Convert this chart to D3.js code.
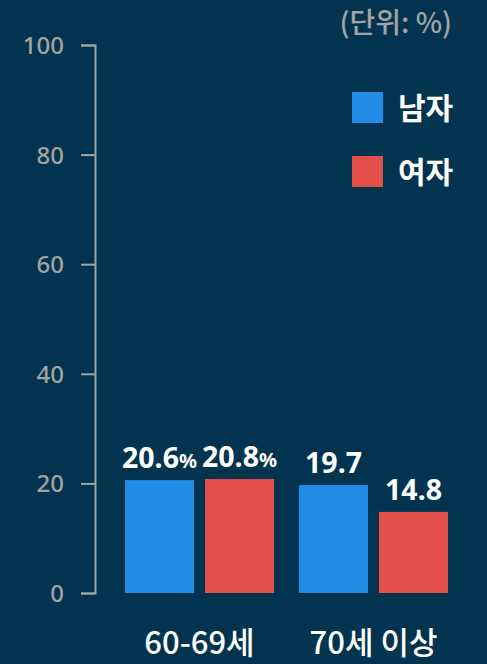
<!DOCTYPE html>
<html>
<head>
<meta charset="utf-8">
<script src="https://cdn.jsdelivr.net/npm/d3@7"></script>
<style>
  html, body { margin: 0; padding: 0; background: #02344f; }
  svg { display: block; font-family: "Noto Sans CJK KR", "Noto Sans", sans-serif; }
</style>
</head>
<body>
<div id="chart"></div>
<script>
// data
var groups = ["60-69세", "70세 이상"];
var series = ["남자", "여자"];
var menValues = [20.6, 19.7];
var womenValues = [20.8, 14.8];
var yTicks = [0, 20, 40, 60, 80, 100];
var colors = ["#228be6", "#e2504a"];
var unitLabel = "(단위: %)";

var W = 487, H = 664;

var svg = d3.select("#chart").append("svg")
  .attr("width", W).attr("height", H);

svg.append("rect").attr("width", W).attr("height", H).attr("fill", "#02344f");

var y = d3.scaleLinear().domain([0, 100]).range([593, 45]);

var x0 = d3.scaleBand().domain(groups).range([125, 448]).paddingInner(25 / 174);
var x1 = d3.scaleBand().domain(series).range([0, x0.bandwidth()]).paddingInner(11 / 80);
var color = d3.scaleOrdinal().domain(series).range(colors);

// y axis
var yAxis = d3.axisLeft(y).tickValues(yTicks).tickSize(14).tickPadding(17).tickSizeOuter(14);
var gy = svg.append("g").attr("transform", "translate(95,0)").call(yAxis);
gy.select(".domain").attr("stroke", "#a3a3a3").attr("stroke-width", 2);
gy.selectAll(".tick line").attr("stroke", "#a3a3a3").attr("stroke-width", 2);
gy.selectAll(".tick text")
  .attr("fill", "#a3a3a3")
  .attr("font-size", 24)
  .attr("font-weight", 500)
  .attr("font-family", "'Noto Sans', sans-serif")
  .attr("dy", "0.35em");

// rows
var rows = groups.map(function(g, i) {
  return { group: g, values: [
    { key: series[0], value: menValues[i] },
    { key: series[1], value: womenValues[i] } ] };
});

var gGroups = svg.selectAll("g.group").data(rows).enter()
  .append("g").attr("class", "group")
  .attr("transform", function(d) { return "translate(" + x0(d.group) + ",0)"; });

gGroups.selectAll("rect.bar")
  .data(function(d) { return d.values; })
  .enter().append("rect").attr("class", "bar")
  .attr("x", function(d) { return x1(d.key); })
  .attr("width", x1.bandwidth())
  .attr("y", function(d) { return y(d.value); })
  .attr("height", function(d) { return y(0) - y(d.value); })
  .attr("fill", function(d) { return color(d.key); });

// value labels (% only on first group)
gGroups.each(function(row, gi) {
  var lab = d3.select(this).selectAll("text.val")
    .data(row.values).enter().append("text").attr("class", "val")
    .attr("x", function(d) { return x1(d.key) + x1.bandwidth() / 2; })
    .attr("y", function(d) { return y(d.value) - 12; })
    .attr("text-anchor", "middle")
    .attr("fill", "#ffffff")
    .attr("font-weight", 700)
    .attr("font-size", 28.5)
    .attr("font-family", "'Noto Sans', sans-serif");
  lab.append("tspan").text(function(d) { return d.value.toFixed(1); });
  if (gi === 0) {
    lab.append("tspan").attr("font-size", 20).text("%");
  }
});

// x labels
svg.selectAll("text.xlab").data(groups).enter()
  .append("text").attr("class", "xlab")
  .attr("x", function(d) { return x0(d) + x0.bandwidth() / 2; })
  .attr("y", 654)
  .attr("text-anchor", "middle")
  .attr("fill", "#ffffff")
  .attr("font-size", 31)
  .attr("font-weight", 500)
  .text(function(d) { return d; });

// unit label
svg.append("text")
  .attr("x", 452).attr("y", 33)
  .attr("text-anchor", "end")
  .attr("fill", "#a3a3a3")
  .attr("font-size", 28)
  .attr("font-weight", 500)
  .text(unitLabel);

// legend
var legend = svg.selectAll("g.legend").data(series).enter()
  .append("g").attr("class", "legend")
  .attr("transform", function(d, i) { return "translate(352," + (92 + i * 64) + ")"; });
legend.append("rect").attr("width", 31).attr("height", 31)
  .attr("fill", function(d) { return color(d); });
legend.append("text")
  .attr("x", 46).attr("y", 27)
  .attr("fill", "#ffffff")
  .attr("font-size", 30)
  .attr("font-weight", 700)
  .text(function(d) { return d; });
</script>
</body>
</html>
